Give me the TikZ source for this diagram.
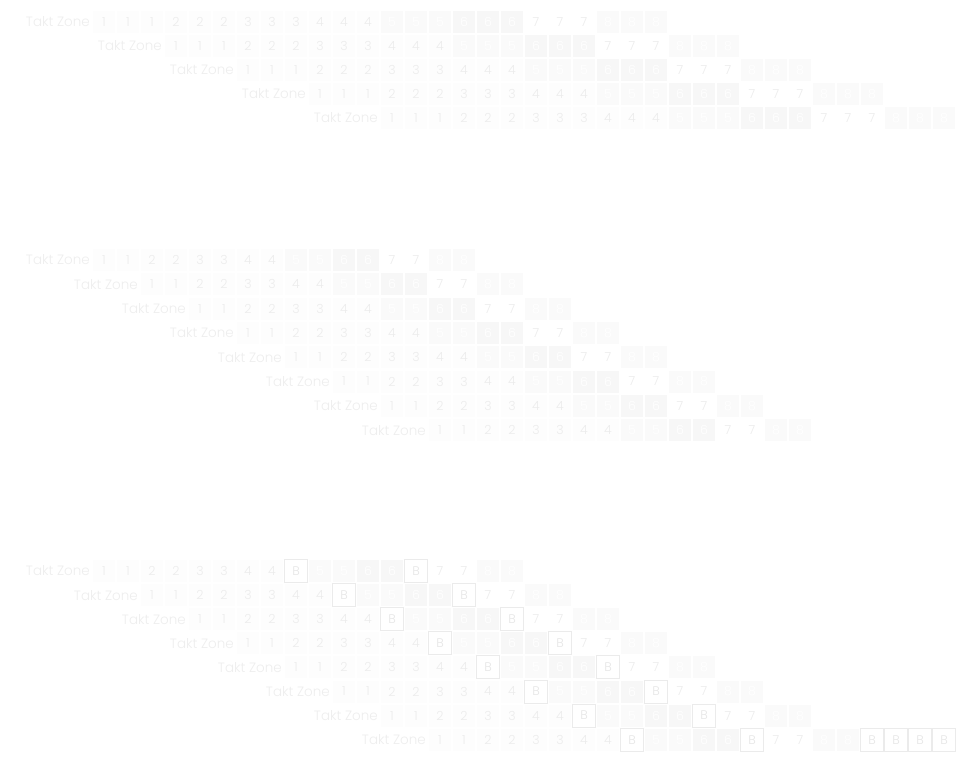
\documentclass[tikz,border=0pt]{standalone}
\usepackage{fontspec}
\setmainfont{Poppins}[UprightFont=* Light]
\definecolor{zbg1}{HTML}{FDFDFD}
\definecolor{zbg2}{HTML}{FDFDFD}
\definecolor{zbg3}{HTML}{FDFDFD}
\definecolor{zbg4}{HTML}{FDFDFD}
\definecolor{zbg5}{HTML}{FAFAFA}
\definecolor{zbg6}{HTML}{F7F7F7}
\definecolor{zbg7}{HTML}{FFFFFF}
\definecolor{zbg8}{HTML}{FAFAFA}
\definecolor{zbg9}{HTML}{FFFFFF}
\definecolor{zfg1}{HTML}{ECECEC}
\definecolor{zfg2}{HTML}{ECECEC}
\definecolor{zfg3}{HTML}{ECECEC}
\definecolor{zfg4}{HTML}{ECECEC}
\definecolor{zfg5}{HTML}{FFFFFF}
\definecolor{zfg6}{HTML}{FFFFFF}
\definecolor{zfg7}{HTML}{ECECEC}
\definecolor{zfg8}{HTML}{FFFFFF}
\definecolor{zfg9}{HTML}{E6E6E6}
\definecolor{zdr1}{HTML}{FFFFFF}
\definecolor{zdr2}{HTML}{FFFFFF}
\definecolor{zdr3}{HTML}{FFFFFF}
\definecolor{zdr4}{HTML}{FFFFFF}
\definecolor{zdr5}{HTML}{FFFFFF}
\definecolor{zdr6}{HTML}{FFFFFF}
\definecolor{zdr7}{HTML}{FFFFFF}
\definecolor{zdr8}{HTML}{FFFFFF}
\definecolor{zdr9}{HTML}{EBEBEB}
\definecolor{labcol}{HTML}{EEEEEE}
\begin{document}
\begin{tikzpicture}[x=1pt,y=-1pt,
  cell/.style={minimum width=23pt, minimum height=23pt, inner sep=0pt, outer sep=0pt,
    line width=1pt, font=\fontsize{12.5}{14}\selectfont},
  zone/.style={fill=zbg#1, text=zfg#1, draw=zdr#1},
  lab/.style={anchor=east, inner sep=0pt, text=labcol, font=\fontsize{13.5}{15}\selectfont}]
\useasboundingbox[fill=white] (0,0) rectangle (980,761);
% section 1
\foreach \r in {0,...,4}{
  \pgfmathsetmacro\xo{92+72*\r}
  \pgfmathsetmacro\yo{22+24*\r}
  \node[lab] (a\r) at (\xo-2,\yo) {Takt Zone};
  \foreach \i in {0,...,23}{
    \pgfmathtruncatemacro\z{int(\i/3)+1}
    \node[cell, zone=\z] (a\r c\i) at (\xo+24*\i+12,\yo) {\z};
  }
}
% section 2
\foreach \r in {0,...,7}{
  \pgfmathsetmacro\xo{92+48*\r}
  \pgfmathsetmacro\yo{260+24.3*\r}
  \node[lab] (b\r) at (\xo-2,\yo) {Takt Zone};
  \foreach \i in {0,...,15}{
    \pgfmathtruncatemacro\z{int(\i/2)+1}
    \node[cell, zone=\z] (b\r c\i) at (\xo+24*\i+12,\yo) {\z};
  }
}
% section 3
\foreach \r in {0,...,7}{
  \pgfmathsetmacro\xo{92+48*\r}
  \pgfmathsetmacro\yo{571+24.1*\r}
  \node[lab] (d\r) at (\xo-2,\yo) {Takt Zone};
  \foreach \z [count=\i from 0] in {1,1,2,2,3,3,4,4,9,5,5,6,6,9,7,7,8,8}{
    \node[cell, zone=\z] (d\r c\i) at (\xo+24*\i+12,\yo) {\ifnum\z=9 B\else\z\fi};
  }
}
\foreach \i in {18,...,21}{
  \pgfmathsetmacro\xo{92+48*7}
  \node[cell, zone=9] (d7c\i) at (\xo+24*\i+12,571+24.1*7) {B};
}
\end{tikzpicture}
\end{document}
